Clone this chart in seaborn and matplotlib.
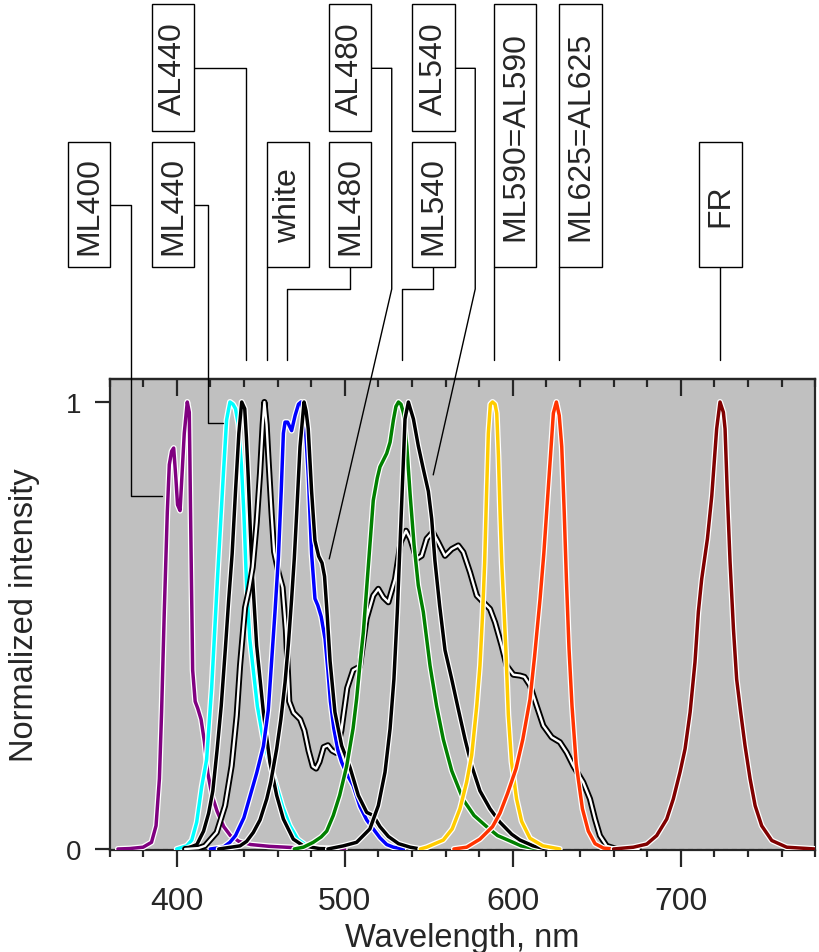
import numpy as np
import pandas as pd
import matplotlib
matplotlib.use("Agg")
import matplotlib.pyplot as plt
import matplotlib.patheffects as pe
from matplotlib.patches import Rectangle
from matplotlib.ticker import MultipleLocator, FixedLocator
import seaborn as sns

sns.set_style("ticks")
plt.rcParams["font.family"] = ["Liberation Sans", "DejaVu Sans"]

# ---------------- spectra (wavelength nm, normalized intensity) ----------------
ml400_wl = [365, 372, 380, 385, 387.7, 389.7, 391.0, 392.6, 394.4, 395.6, 397, 398.2, 399.5, 400.5, 402.0,
            403.2, 404.5, 406.3, 407.5, 408.5, 409.5, 411, 412.5, 414.5, 416.5, 418.5, 421, 424, 428, 432,
            437, 444, 455, 465, 480, 500]
ml400_y = [0, 0.001, 0.004, 0.015, 0.052, 0.157, 0.306, 0.53, 0.753, 0.86, 0.89, 0.897, 0.83, 0.77, 0.757,
           0.84, 0.93, 1.0, 0.977, 0.68, 0.40, 0.33, 0.315, 0.29, 0.24, 0.17, 0.12, 0.085, 0.05, 0.03,
           0.017, 0.01, 0.006, 0.004, 0.001, 0]

ml440_wl = [400, 406, 409, 411.9, 414.9, 417.8, 420.8, 424.2, 427.8, 429.7, 431.7, 433.5, 435, 436.7, 438.5,
            440, 441.7, 443.5, 445.6, 448, 451.5, 455.5, 459.5, 463, 467.4, 472, 477.4, 485, 495]
ml440_y = [0, 0.007, 0.02, 0.06, 0.14, 0.2, 0.36, 0.6, 0.84, 0.96, 1.0, 0.995, 0.985, 0.95, 0.86,
           0.75, 0.58, 0.47, 0.40, 0.32, 0.245, 0.19, 0.14, 0.095, 0.052, 0.022, 0.007, 0.002, 0]

al440_wl = [405, 408, 412, 416, 419, 421.5, 424, 426.5, 429, 431, 433, 435, 437, 438.7, 440.5, 441.5,
            442.6, 444.6, 447.6, 451.6, 455.5, 459.5, 463.5, 469.4, 475.4, 485, 495]
al440_y = [0, 0.004, 0.01, 0.04, 0.08, 0.13, 0.22, 0.32, 0.45, 0.56, 0.66, 0.8, 0.93, 1.0, 0.985, 0.92,
           0.83, 0.64, 0.455, 0.306, 0.194, 0.12, 0.067, 0.022, 0.007, 0.001, 0]

white_wl = [405, 412.9, 416.8, 423.8, 428.8, 432.7, 435.7, 437.7, 440.7, 443, 445.2, 447.6, 449.6, 451.2,
            452.2, 453.5, 454.5, 456.5, 458, 460.5, 463, 465, 467, 469.5, 473.5, 476, 478.5, 481, 483,
            485, 487.5, 490, 492.5, 495, 498, 501.5, 505, 509, 513, 517, 520, 523, 526, 530, 533.3,
            536.5, 539, 542.8, 545.8, 548.8, 552.4, 555.7, 559.7, 563.7, 567.6, 570.6, 574.6, 578.6,
            582.5, 586.5, 589.5, 593.4, 596.4, 600.4, 604.3, 607, 610.3, 614.2, 618.2, 623.2, 628.1,
            632.1, 636.1, 642, 646, 649, 651.9, 655.9, 661.8, 675]
white_y = [0, 0.002, 0.007, 0.037, 0.097, 0.186, 0.298, 0.41, 0.54, 0.58, 0.63, 0.73, 0.84, 0.95,
           1.0, 0.95, 0.88, 0.75, 0.665, 0.62, 0.585, 0.49, 0.33, 0.305, 0.29, 0.265, 0.22, 0.185, 0.18,
           0.195, 0.228, 0.232, 0.22, 0.215, 0.265, 0.36, 0.40, 0.408, 0.515, 0.567, 0.582, 0.563, 0.552,
           0.604, 0.686, 0.712, 0.694, 0.649, 0.656, 0.694, 0.709, 0.686, 0.656, 0.671, 0.679, 0.664,
           0.619, 0.567, 0.552, 0.537, 0.507, 0.455, 0.41, 0.39, 0.388, 0.385, 0.366, 0.321, 0.276,
           0.25, 0.239, 0.216, 0.186, 0.149, 0.112, 0.067, 0.03, 0.007, 0, 0]

ml480_wl = [420, 427.7, 431.7, 435, 440, 447.6, 451.6, 454.5, 456.5, 458.5, 460.5, 462.2, 463.5, 464.5,
            466, 468.4, 470.5, 472.5, 474, 475.5, 476.5, 478.4, 480.3, 482.3, 484, 486, 488.3, 490,
            491.5, 493.5, 496, 498.2, 501, 505, 509.1, 513.1, 517, 521, 525, 529, 535]
ml480_y = [0, 0.004, 0.015, 0.03, 0.07, 0.17, 0.23, 0.31, 0.42, 0.53, 0.65, 0.8, 0.93, 0.955,
           0.955, 0.936, 0.97, 0.995, 1.0, 0.98, 0.95, 0.83, 0.66, 0.56, 0.545, 0.52, 0.47, 0.40,
           0.33, 0.27, 0.22, 0.194, 0.17, 0.142, 0.095, 0.065, 0.045, 0.025, 0.01, 0.004, 0]

al480_wl = [425, 437.7, 441.6, 445.6, 449.6, 453.6, 456, 459.5, 462, 464.5, 466.5, 468.4, 470, 471.4,
            473.4, 475.8, 477, 478.3, 480.3, 482.3, 484.5, 486.5, 488, 489.3, 491.3, 494.2, 498.2,
            503.2, 508.1, 513.1, 517, 521, 526, 532, 539, 545]
al480_y = [0, 0.007, 0.017, 0.037, 0.065, 0.112, 0.15, 0.224, 0.29, 0.373, 0.46, 0.559, 0.65, 0.75,
           0.9, 1.0, 0.98, 0.94, 0.8, 0.69, 0.655, 0.64, 0.61, 0.54, 0.42, 0.306, 0.231,
           0.182, 0.12, 0.082, 0.075, 0.05, 0.028, 0.012, 0.004, 0]

ml540_wl = [470, 475.4, 481.3, 486, 489.3, 493.2, 497, 501.2, 505, 507.1, 509, 511.1, 513, 515, 517,
            519.4, 521, 523, 525, 527, 529, 530.5, 532, 533.5, 535, 537, 539, 541.3, 543.8, 546.8,
            550.8, 554.7, 558.7, 563.7, 570.6, 577, 584.5, 591, 598.4, 605, 612, 620]
ml540_y = [0, 0.004, 0.015, 0.027, 0.04, 0.075, 0.12, 0.186, 0.27, 0.336, 0.41, 0.485, 0.58, 0.68, 0.78,
           0.83, 0.855, 0.87, 0.885, 0.91, 0.96, 0.99, 1.0, 0.995, 0.975, 0.9, 0.79, 0.68, 0.59, 0.53,
           0.41, 0.32, 0.245, 0.175, 0.11, 0.075, 0.05, 0.03, 0.018, 0.007, 0.002, 0]

al540_wl = [490, 499.2, 507.1, 515, 520, 524, 527, 529.3, 531.3, 532.9, 534.5, 535.9, 537.9, 540.9,
            543.8, 546.8, 549.8, 551.8, 553.7, 556.5, 559.7, 563.7, 567.6, 571.6, 575.6, 580.5, 586.5,
            592.4, 599.4, 604.3, 612.2, 620]
al540_y = [0, 0.007, 0.015, 0.045, 0.097, 0.172, 0.269, 0.38, 0.53, 0.679, 0.828, 0.962, 1.0, 0.962,
           0.902, 0.85, 0.8, 0.738, 0.645, 0.545, 0.445, 0.38, 0.313, 0.246, 0.186, 0.13, 0.09,
           0.06, 0.033, 0.02, 0.007, 0]

ml590_wl = [545, 548.8, 558.7, 564, 568.6, 572.6, 575.6, 578.6, 580.5, 582, 583.3, 584.4, 585.5, 586.7,
            588, 589.5, 590.5, 591.5, 592.5, 593.5, 594.5, 596, 597.4, 599.3, 602.3, 605.3, 610.3,
            618, 628]
ml590_y = [0, 0.004, 0.02, 0.045, 0.09, 0.15, 0.21, 0.32, 0.41, 0.52, 0.64, 0.79, 0.93, 0.995,
           1.0, 0.995, 0.975, 0.88, 0.75, 0.64, 0.56, 0.44, 0.3, 0.195, 0.112, 0.062, 0.024,
           0.007, 0]

ml625_wl = [565, 572.6, 580.5, 588, 592.4, 597, 602, 606, 610.3, 613, 616.3, 618.5, 620.5, 622.5, 624.2,
            626, 627.7, 629.2, 630.6, 632, 633.5, 635.3, 637.8, 641.5, 645, 649, 654, 660]
ml625_y = [0, 0.004, 0.022, 0.05, 0.08, 0.125, 0.18, 0.245, 0.335, 0.43, 0.56, 0.66, 0.77, 0.88, 0.975,
           1.0, 0.97, 0.9, 0.76, 0.6, 0.45, 0.32, 0.19, 0.09, 0.04, 0.012, 0.002, 0]

fr_wl = [660, 671.8, 679.8, 685.7, 691.7, 695.6, 699.6, 702.6, 705.6, 708.5, 710.5, 712.5, 715.9, 718.5,
         721.4, 723.4, 725.4, 726.4, 727.8, 729.4, 731.4, 733.3, 735.7, 738.3, 741.3, 744.3, 748.2,
         754.2, 763.1, 780]
fr_y = [0, 0.004, 0.011, 0.03, 0.067, 0.112, 0.172, 0.224, 0.306, 0.418, 0.53, 0.604, 0.694, 0.79,
        0.94, 1.0, 0.977, 0.94, 0.79, 0.641, 0.492, 0.38, 0.306, 0.231, 0.157, 0.097, 0.052,
        0.019, 0.004, 0]

spectra = [
    ("ML400", ml400_wl, ml400_y, "#800080"),
    ("ML440", ml440_wl, ml440_y, "#00ffff"),
    ("AL440", al440_wl, al440_y, "#000000"),
    ("white", white_wl, white_y, "white"),
    ("ML480", ml480_wl, ml480_y, "#0000ff"),
    ("AL480", al480_wl, al480_y, "#000000"),
    ("ML540", ml540_wl, ml540_y, "#008000"),
    ("AL540", al540_wl, al540_y, "#000000"),
    ("ML590", ml590_wl, ml590_y, "#ffcc00"),
    ("ML625", ml625_wl, ml625_y, "#ff3300"),
    ("FR", fr_wl, fr_y, "#800000"),
]

# ---------------- label boxes ----------------
box_labels = ["ML400", "ML440", "AL440", "white", "ML480", "AL480", "AL540", "ML540",
              "ML590=AL590", "ML625=AL625", "FR"]
box_left = [335.1, 385.1, 385.1, 453.6, 490.65, 490.65, 540.2, 540.2, 588.7, 627.6, 710.9]
box_row = ["low", "low", "high", "low", "low", "high", "high", "low", "tall", "tall", "low"]
row_span = {"low": (1.3013, 1.5810), "high": (1.6055, 1.8904), "tall": (1.3013, 1.8904)}
box_w = 25.3

leaders = [
    [(360.5, 1.441), (372.6, 1.441), (372.6, 0.790), (391.1, 0.790)],
    [(410.3, 1.441), (418.5, 1.441), (418.5, 0.952), (427.7, 0.952)],
    [(410.3, 1.7465), (441.1, 1.7465), (441.1, 1.094)],
    [(453.6, 1.3013), (453.6, 1.094)],
    [(503.2, 1.3013), (503.2, 1.2528), (465.8, 1.2528), (465.8, 1.094)],
    [(515.65, 1.7465), (528.0, 1.7465), (528.0, 1.2528), (490.8, 0.649)],
    [(565.2, 1.7465), (577.7, 1.7465), (577.7, 1.2528), (552.7, 0.837)],
    [(552.7, 1.3013), (552.7, 1.2528), (534.4, 1.2528), (534.4, 1.094)],
    [(588.7, 1.3013), (588.7, 1.094)],
    [(627.6, 1.3013), (627.6, 1.094)],
    [(723.5, 1.3013), (723.5, 1.094)],
]

# ---------------- figure ----------------
W, H = 819, 953
fig = plt.figure(figsize=(W / 100, H / 100), dpi=100)
ax = fig.add_axes([109.5 / W, 102 / H, (815.1 - 109.5) / W, (851 - 380) / H])
ax.set_facecolor("#c0c0c0")

ax.axhline(0, color="#8a8a8a", lw=0.9, ls=(0, (4, 3)), zorder=1)

for name, wl, yy, col in spectra:
    df = pd.DataFrame({"wl": wl, "y": yy})
    if col == "white":
        effects = [pe.Stroke(linewidth=4.4, foreground="black"), pe.Normal()]
        lw = 1.7
    else:
        effects = [pe.Stroke(linewidth=4.3, foreground="white"), pe.Normal()]
        lw = 2.5
    sns.lineplot(data=df, x="wl", y="y", ax=ax, color=col, lw=lw, sort=False,
                 estimator=None, path_effects=effects, zorder=3,
                 solid_joinstyle="round", solid_capstyle="round")

ax.set_xlim(360, 780)
ax.set_ylim(-1 / 447, 470 / 447)

for lab, x0, row in zip(box_labels, box_left, box_row):
    y0, y1 = row_span[row]
    ax.add_patch(Rectangle((x0, y0), box_w, y1 - y0, facecolor="white", edgecolor="black",
                           lw=1.0, clip_on=False, zorder=5))
    ax.text(x0 + box_w / 2, (y0 + y1) / 2, lab, rotation=90, ha="center", va="center",
            fontsize=23, clip_on=False, zorder=6)

for path in leaders:
    xs = [p[0] for p in path]
    ys = [p[1] for p in path]
    ax.plot(xs, ys, color="black", lw=1.0, clip_on=False, zorder=4)

# ticks
ax.xaxis.set_major_locator(MultipleLocator(100))
ax.xaxis.set_minor_locator(MultipleLocator(20))
ax.yaxis.set_major_locator(FixedLocator([0, 1]))
ax.set_yticklabels(["0", "1"])
ax.tick_params(axis="x", which="major", direction="out", length=12, width=1.6, labelsize=23, pad=14)
ax.tick_params(axis="x", which="minor", direction="out", length=5, width=1.6)
ax.tick_params(axis="y", which="major", direction="out", length=11, width=1.6, labelsize=20, pad=9)
for sp in ax.spines.values():
    sp.set_linewidth(1.6)

sec = ax.secondary_xaxis("top")
sec.xaxis.set_major_locator(MultipleLocator(100))
sec.xaxis.set_minor_locator(MultipleLocator(20))
sec.tick_params(axis="x", which="major", direction="in", length=12, width=1.6, labeltop=False)
sec.tick_params(axis="x", which="minor", direction="in", length=6, width=1.6)
sec.spines["top"].set_linewidth(1.6)

ax.set_xlabel("Wavelength, nm", fontsize=23.5, labelpad=4)
ax.set_ylabel("Normalized intensity", fontsize=23.5, labelpad=19)

fig.savefig("out.png", dpi=100)
